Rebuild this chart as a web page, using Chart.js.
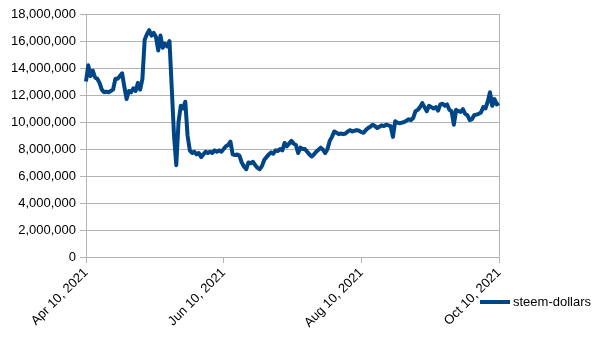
<!DOCTYPE html>
<html>
<head>
<meta charset="utf-8">
<script src="https://cdn.jsdelivr.net/npm/chart.js@4"></script>
<style>
    html, body { margin: 0; padding: 0; background: #fff; }
    #wrap { width: 605px; height: 340px; }
</style>
</head>
<body>
<div id="wrap"><canvas id="steemChart" width="605" height="340"></canvas></div>
<script>
const seriesName = 'steem-dollars';
const startDate = [2021, 3, 10]; // Apr 10, 2021
const monthNames = ['Jan', 'Feb', 'Mar', 'Apr', 'May', 'Jun', 'Jul', 'Aug', 'Sep', 'Oct', 'Nov', 'Dec'];
const tickDays = [0, 61, 122, 183];
const yTicks = [0, 2000000, 4000000, 6000000, 8000000, 10000000, 12000000, 14000000, 16000000, 18000000];

// daily supply, in millions
const supplyM = [
    13.0, 14.2, 13.4, 13.8, 13.3, 13.2, 12.9, 12.4, 12.2, 12.25,
    12.2, 12.3, 12.4, 13.2, 13.2, 13.4, 13.6, 12.6, 11.7, 12.3,
    12.2, 12.5, 12.3, 12.9, 12.4, 13.2, 16.1, 16.5, 16.8, 16.4,
    16.6, 16.3, 15.3, 16.4, 15.5, 15.8, 15.6, 16.0, 12.5, 9.0,
    6.8, 10.0, 11.2, 11.0, 11.5, 9.0, 7.9, 7.7, 7.8, 7.6,
    7.7, 7.4, 7.6, 7.8, 7.7, 7.8, 7.7, 7.9, 7.8, 7.9,
    7.8, 8.0, 8.2, 8.3, 8.55, 7.6, 7.55, 7.6, 7.5, 7.0,
    6.7, 6.5, 7.0, 6.95, 7.05, 6.8, 6.6, 6.5, 6.75, 7.2,
    7.4, 7.6, 7.75, 7.65, 7.9, 7.85, 8.0, 7.9, 8.45, 8.2,
    8.4, 8.6, 8.4, 8.3, 7.7, 8.1, 8.0, 8.0, 7.8, 7.6,
    7.45, 7.6, 7.8, 7.95, 8.1, 7.95, 7.7, 8.0, 8.6, 8.9,
    9.3, 9.2, 9.1, 9.15, 9.1, 9.15, 9.3, 9.4, 9.3, 9.35,
    9.4, 9.35, 9.25, 9.2, 9.4, 9.55, 9.65, 9.8, 9.7, 9.55,
    9.65, 9.75, 9.7, 9.8, 9.75, 9.7, 8.9, 10.05, 9.95, 9.9,
    9.95, 10.0, 10.1, 10.2, 10.15, 10.3, 10.8, 10.9, 11.1, 11.4,
    11.1, 10.8, 11.2, 11.1, 11.0, 11.1, 10.85, 11.3, 11.35, 11.2,
    11.3, 10.9, 10.8, 9.8, 10.9, 10.8, 10.75, 10.95, 10.6, 10.5,
    10.15, 10.2, 10.5, 10.55, 10.6, 10.7, 11.1, 11.0, 11.5, 12.2,
    11.2, 11.7, 11.3, 11.4
];

const labels = supplyM.map(function (v, i) {
    const d = new Date(startDate[0], startDate[1], startDate[2] + i);
    return monthNames[d.getMonth()] + ' ' + d.getDate() + ', ' + d.getFullYear();
});

const gridGray = '#b3b3b3';
const lineBlue = '#004586';
const fontSpec = { family: "'Liberation Sans', Arial, sans-serif", size: 13 };

// legend drawn below the plot, to the right of the last date label
const sideLegend = {
    id: 'sideLegend',
    afterDraw(chart) {
        const ctx = chart.ctx;
        const ds = chart.data.datasets[0];
        ctx.save();
        ctx.strokeStyle = ds.borderColor;
        ctx.lineWidth = 4;
        ctx.beginPath();
        ctx.moveTo(480, 302);
        ctx.lineTo(510, 302);
        ctx.stroke();
        ctx.fillStyle = '#000';
        ctx.font = fontSpec.size + 'px ' + fontSpec.family;
        ctx.textBaseline = 'middle';
        ctx.fillText(ds.label, 513, 302);
        ctx.restore();
    }
};

const ctx = document.getElementById('steemChart').getContext('2d');
const steemChart = new Chart(ctx, {
    type: 'line',
    data: {
        labels: labels,
        datasets: [{
            label: seriesName,
            data: supplyM.map(function (v) { return v * 1000000; }),
            borderColor: lineBlue,
            backgroundColor: lineBlue,
            borderWidth: 4,
            pointRadius: 0,
            tension: 0,
            borderJoinStyle: 'round'
        }]
    },
    options: {
        responsive: false,
        animation: false,
        layout: { padding: { top: 14, right: 106, left: 0, bottom: 0 } },
        plugins: {
            legend: { display: false },
            tooltip: { enabled: false }
        },
        scales: {
            x: {
                type: 'category',
                offset: false,
                afterBuildTicks: function (scale) {
                    scale.ticks = tickDays.map(function (d) { return { value: d }; });
                },
                afterFit: function (scale) { scale.height = 83; },
                grid: {
                    color: function (c) { return c.index === tickDays.length - 1 ? gridGray : 'transparent'; },
                    tickColor: gridGray,
                    tickLength: 6,
                    lineWidth: 1
                },
                border: { color: gridGray },
                ticks: {
                    autoSkip: false,
                    maxRotation: 45,
                    minRotation: 45,
                    color: '#000',
                    font: fontSpec,
                    padding: 2
                }
            },
            y: {
                min: 0,
                max: 18000000,
                afterBuildTicks: function (scale) {
                    scale.ticks = yTicks.map(function (v) { return { value: v }; });
                },
                afterFit: function (scale) { scale.width = 86; },
                grid: {
                    color: gridGray,
                    tickColor: gridGray,
                    tickLength: 6
                },
                border: { color: gridGray },
                ticks: {
                    color: '#000',
                    font: fontSpec,
                    padding: 4,
                    callback: function (v) { return Number(v).toLocaleString('en-US'); }
                }
            }
        }
    },
    plugins: [sideLegend]
});
</script>
</body>
</html>
